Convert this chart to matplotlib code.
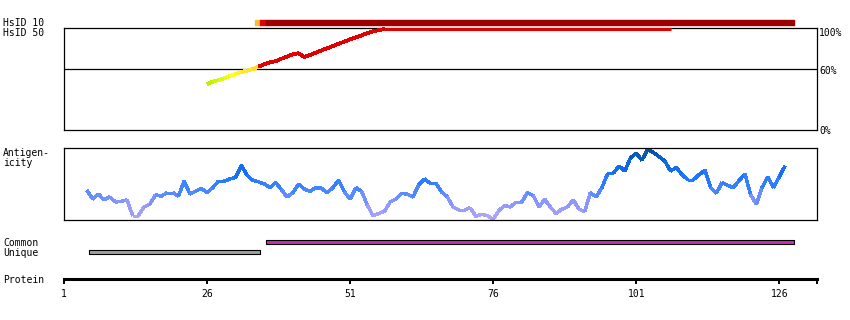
import matplotlib
matplotlib.use("Agg")
import matplotlib.pyplot as plt
from matplotlib.collections import LineCollection
from matplotlib.colors import LinearSegmentedColormap
import numpy as np

W, H = 850, 320
PROT_END = 132.6

# identity to human (HsID 50 curve), percent per residue
hsid_res = list(range(26, 58))
hsid_pct = [45.1, 47.4, 49.0, 50.6, 52.9, 54.9, 56.9, 58.2, 59.8, 62.1, 64.4,
            66.3, 67.6, 69.9, 71.9, 74.2, 75.2, 71.6, 73.5, 75.8, 78.1, 80.1,
            82.4, 84.6, 86.6, 88.9, 90.8, 92.8, 94.8, 96.7, 98.0, 99.0]
hsid_full = (57, 107)   # span at 100 %

# HsID 10 bar segments (start, end, colour)
hsid10_segs = [(34.4, 35.3, "#f8c030"), (35.3, 36.3, "#e00000"), (36.3, 128.6, "#9c0000")]

# antigenicity (relative score), residues 5..127
ag_res = list(range(5, 128))
ag_val = [0.41, 0.29, 0.36, 0.28, 0.32, 0.25, 0.26, 0.28, 0.06, 0.06, 0.18, 0.22,
          0.35, 0.33, 0.38, 0.38, 0.33, 0.54, 0.36, 0.40, 0.44, 0.38, 0.45, 0.54,
          0.54, 0.57, 0.59, 0.76, 0.62, 0.55, 0.53, 0.50, 0.45, 0.52, 0.42, 0.32,
          0.38, 0.50, 0.43, 0.40, 0.45, 0.44, 0.38, 0.45, 0.55, 0.39, 0.29, 0.45,
          0.40, 0.21, 0.06, 0.09, 0.12, 0.25, 0.29, 0.37, 0.36, 0.32, 0.49, 0.57,
          0.51, 0.51, 0.39, 0.32, 0.18, 0.14, 0.14, 0.17, 0.05, 0.08, 0.06, 0.01,
          0.13, 0.20, 0.18, 0.25, 0.25, 0.38, 0.34, 0.18, 0.29, 0.18, 0.09, 0.15,
          0.18, 0.28, 0.15, 0.12, 0.38, 0.32, 0.45, 0.64, 0.65, 0.75, 0.68, 0.86,
          0.93, 0.83, 0.98, 0.94, 0.88, 0.82, 0.68, 0.73, 0.63, 0.56, 0.56, 0.63,
          0.69, 0.45, 0.37, 0.52, 0.48, 0.45, 0.55, 0.64, 0.35, 0.22, 0.45, 0.60,
          0.45, 0.60, 0.75]

common = (36.3, 128.6)
unique = (5.4, 35.3)
prot_ticks = [1, 26, 51, 76, 101, 126]

FONT = dict(family="DejaVu Sans Mono", fontsize=7)


def px_axes(fig, x0, y0, x1, y1):
    # axes placed by pixel box (top-left origin)
    return fig.add_axes([x0 / W, 1 - y1 / H, (x1 - x0) / W, (y1 - y0) / H])


def label(fig, x, y, s, **kw):
    fig.text(x / W, 1 - y / H, s, va="baseline", **FONT, **kw)


fig = plt.figure(figsize=(W / 100, H / 100), dpi=100)

# --- identity panel
ax = px_axes(fig, 64, 28, 817, 130)
ax.set_xlim(1, PROT_END)
ax.set_ylim(0, 100)
ax.set_xticks([])
ax.set_yticks([])
for s in ax.spines.values():
    s.set_linewidth(0.9)
ax.axhline(60, color="black", lw=0.9)

id_cmap = LinearSegmentedColormap.from_list(
    "id", [(0, "#b8f000"), (0.5, "#ffff20"), (0.99, "#ffd830"), (1.0, "#e00000")])
pts = np.column_stack([hsid_res, hsid_pct])
segs = np.stack([pts[:-1], pts[1:]], axis=1)
seg_val = np.array([min(a, b) for a, b in zip(hsid_pct[:-1], hsid_pct[1:])])
cols = [id_cmap(np.clip((v - 45) / 15, 0, 1)) if v < 60 else "#e00000" for v in seg_val]
ax.add_collection(LineCollection(segs, colors=cols, linewidths=2.0, zorder=5,
                                 clip_on=False, antialiaseds=False))
ax.plot(hsid_full, [99, 99], color="#e00000", lw=2.2, solid_capstyle="butt",
        zorder=6, clip_on=False)

for a, b, c in hsid10_segs:
    ax.broken_barh([(a, b - a)], (103.2, 4.6), color=c, clip_on=False)

# --- antigenicity panel
ax2 = px_axes(fig, 64, 148, 817, 220)
ax2.set_xlim(1, PROT_END)
ax2.set_ylim(0, 1)
ax2.set_xticks([])
ax2.set_yticks([])
for s in ax2.spines.values():
    s.set_linewidth(0.9)
ag_cmap = LinearSegmentedColormap.from_list(
    "ag", [(0, "#b4a8f8"), (0.25, "#8a96ff"), (0.4, "#4a88ff"),
           (0.6, "#1e76ff"), (0.8, "#0a64e0"), (1.0, "#0a4a90")])
pts = np.column_stack([ag_res, ag_val])
segs = np.stack([pts[:-1], pts[1:]], axis=1)
mid = (np.array(ag_val[:-1]) + np.array(ag_val[1:])) / 2
ax2.add_collection(LineCollection(segs, colors=ag_cmap(mid), linewidths=1.8,
                                  antialiaseds=False))

# --- common / unique bars
ax3 = px_axes(fig, 64, 236, 817, 258)
ax3.set_xlim(1, PROT_END)
ax3.set_ylim(258, 236)
ax3.axis("off")
ax3.broken_barh([(common[0], common[1] - common[0])], (240.2, 4.3),
                facecolor="#cc2faa", edgecolor="black", lw=0.8)
ax3.broken_barh([(unique[0], unique[1] - unique[0])], (250.2, 4.3),
                facecolor="#a0a0a0", edgecolor="black", lw=0.8)

# --- protein ruler
ax4 = px_axes(fig, 64, 270, 817, 279)
ax4.set_xlim(1, PROT_END)
for k in ("top", "left", "right"):
    ax4.spines[k].set_visible(False)
ax4.spines["bottom"].set_linewidth(2.2)
ax4.patch.set_alpha(0)
ax4.set_yticks([])
ax4.set_xticks(prot_ticks + [PROT_END])
ax4.set_xticklabels([str(t) for t in prot_ticks] + [""], **FONT)
ax4.tick_params(axis="x", length=3.5, width=1.4, pad=3.5)

# --- row labels
label(fig, 3, 26, "HsID 10")
label(fig, 3, 36, "HsID 50")
label(fig, 3, 156, "Antigen-")
label(fig, 3, 165.5, "icity")
label(fig, 3, 246, "Common")
label(fig, 3, 255.5, "Unique")
label(fig, 3, 283, "Protein")
label(fig, 819, 36, "100%")
label(fig, 819, 74, "60%")
label(fig, 819, 133.5, "0%")

fig.savefig("out.png", dpi=100)
